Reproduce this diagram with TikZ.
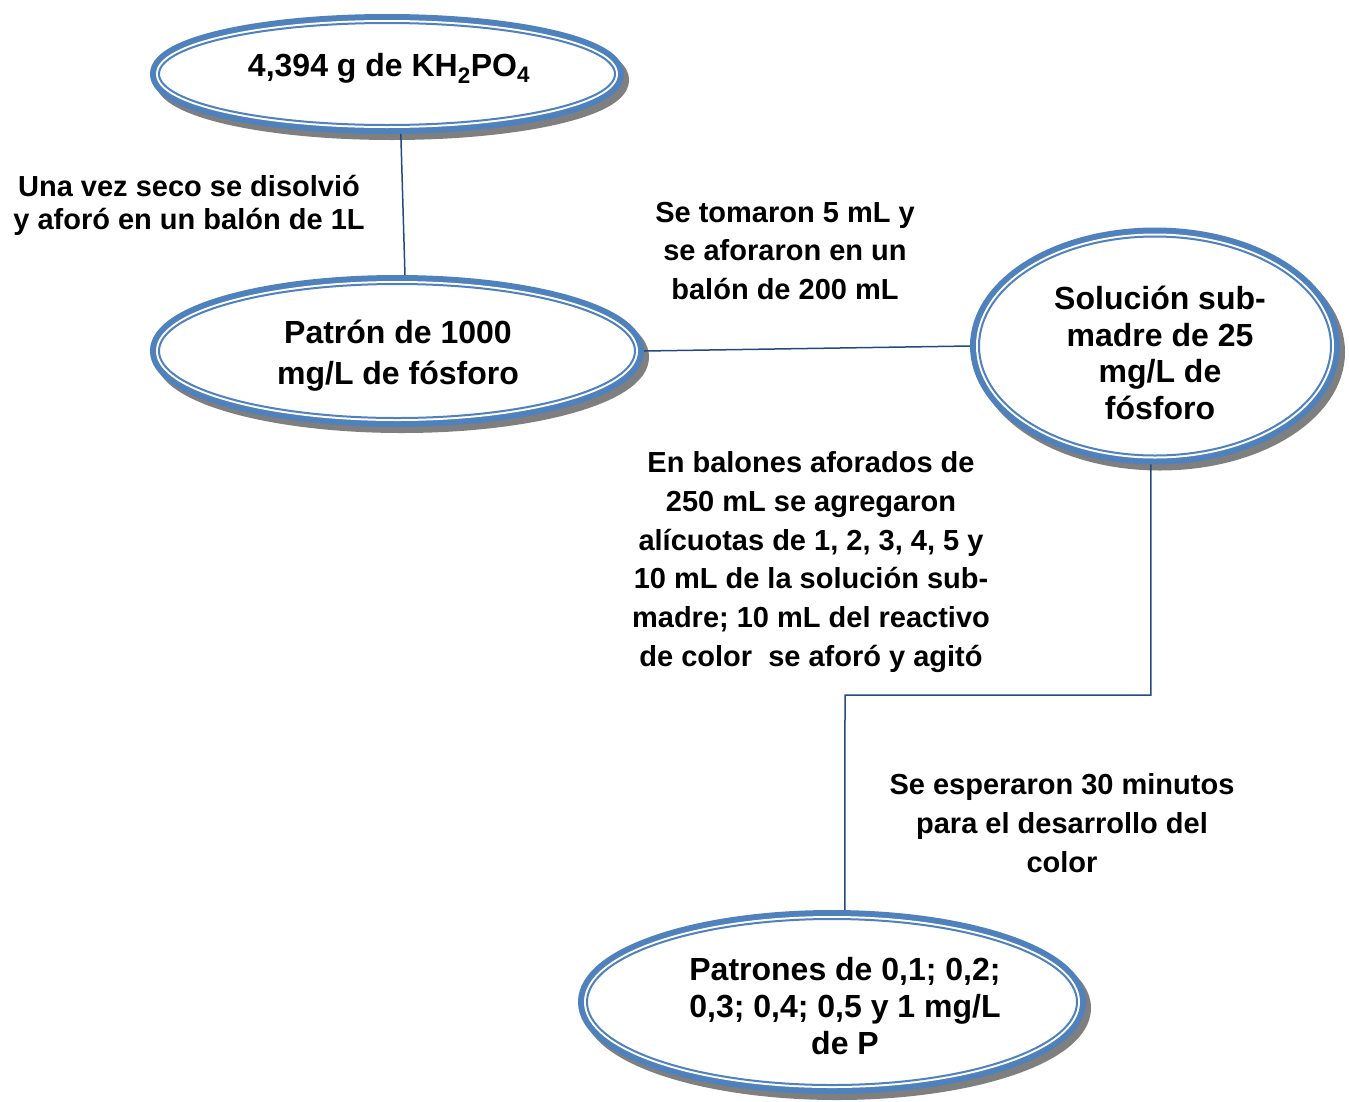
\documentclass[tikz,border=0pt]{standalone}
\usepackage{fontspec}
\setmainfont{Liberation Sans}
\usepackage{xcolor}
\usepackage{tikz}
\usetikzlibrary{shapes.geometric}
\definecolor{ringblue}{HTML}{4F81BD}
\definecolor{linkblue}{HTML}{24497F}
\definecolor{shadowgray}{HTML}{7F7F7F}
\tikzset{
  oval/.style={ellipse,inner sep=0pt,outer sep=9pt,
    preaction={draw=shadowgray,line width=18pt,transform canvas={shift={(5pt,-6pt)}}},
    preaction={draw=ringblue,line width=18pt},
    preaction={draw=white,line width=6pt},
    fill=white,draw=ringblue,line width=2pt},
  ovaltext/.style={align=center,inner sep=0pt,font={\fontsize{32}{36.7}\selectfont\bfseries}},
  note/.style={align=center,font={\fontsize{29}{38.7}\selectfont\bfseries}},
  link/.style={draw=linkblue,line width=1.5pt}
}

\begin{document}
\begin{tikzpicture}[x=1pt,y=-1pt]
    \useasboundingbox (0,0) rectangle (1349,1101);

    \node[oval,minimum width=456pt,minimum height=102pt,
      label={[ovaltext,xshift=2pt,yshift=6pt]center:{4,394 g de KH\textsubscript{2}PO\textsubscript{4}}}] (kh) at (387,74) {};
    \node[oval,minimum width=476pt,minimum height=134pt,
      label={[ovaltext,font={\fontsize{32}{41}\selectfont\bfseries},xshift=1pt,yshift=-5pt]center:{Patrón de 1000\\mg/L de fósforo}}] (patron) at (397,351) {};
    \node[oval,minimum width=352pt,minimum height=219pt,
      label={[ovaltext,xshift=5pt,yshift=-7pt]center:{Solución sub-\\madre de 25\\mg/L de\\fósforo}}] (submadre) at (1155,346) {};
    \node[oval,minimum width=490pt,minimum height=166pt,
      label={[ovaltext,xshift=13pt,yshift=-4pt]center:{Patrones de 0,1; 0,2;\\0,3; 0,4; 0,5 y 1 mg/L\\de P}}] (patrones) at (832,1002) {};

    \node[note,font={\fontsize{29}{33}\selectfont\bfseries}] (seco) at (189,205) {Una vez seco se disolvió\\y aforó en un balón de 1L};
    \node[note] (tomaron) at (785,251) {Se tomaron 5 mL y\\se aforaron en un\\balón de 200 mL};
    \node[note] (balones) at (811,562) {En balones aforados de\\250 mL se agregaron\\alícuotas de 1, 2, 3, 4, 5 y\\10 mL de la solución sub-\\madre; 10 mL del reactivo\\de color~ se aforó y agitó};
    \node[note] (espera) at (1062,823) {Se esperaron 30 minutos\\para el desarrollo del\\color};

    \draw[link] (kh.-77) -- (patron.84);
    \draw[link] (patron.east) -- (submadre.west);
    \coordinate (bend) at (845,695);
    \draw[link] (submadre.-92) |- (bend) -- (patrones.82);
  \end{tikzpicture}
\end{document}
